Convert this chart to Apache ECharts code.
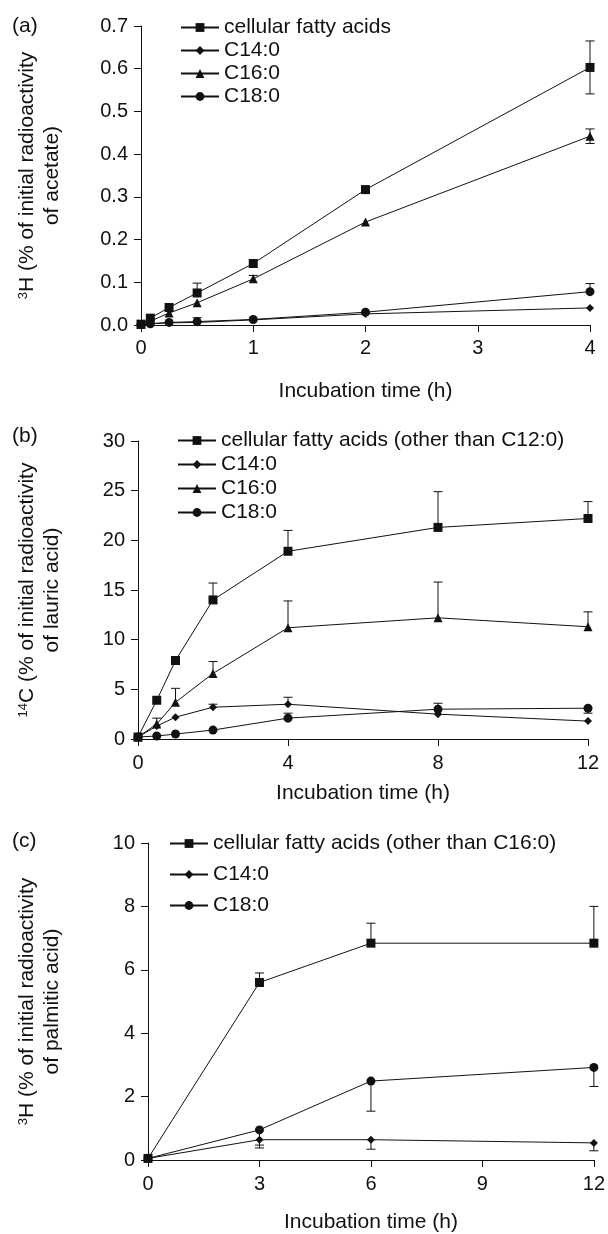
<!DOCTYPE html>
<html>
<head>
<meta charset="utf-8">
<script src="https://cdn.jsdelivr.net/npm/echarts@6/dist/echarts.min.js"></script>
<style>
  html, body { margin: 0; padding: 0; background: #fff; }
  #main { width: 608px; height: 1234px; }
</style>
</head>
<body>
<div id="main"></div>
<script>
// panel (a): 3H from acetate
const timeA = [0, 0.083, 0.25, 0.5, 1, 2, 4]
const fattyA = [0.002, 0.016, 0.041, 0.075, 0.144, 0.317, 0.603]
const c14A = [0.001, 0.003, 0.005, 0.006, 0.012, 0.026, 0.040]
const c16A = [0.001, 0.009, 0.028, 0.052, 0.108, 0.241, 0.442]
const c18A = [0.001, 0.003, 0.006, 0.008, 0.013, 0.030, 0.078]
const fattyAUp = [0, 0, 0, 0.023, 0, 0, 0.062]
const fattyALo = [0, 0, 0, 0, 0, 0, 0.062]
const c16AUp = [0, 0, 0, 0, 0.008, 0, 0.017]
const c16ALo = [0, 0, 0, 0, 0, 0, 0.017]
const c18AUp = [0, 0, 0, 0.009, 0, 0, 0.019]

// panel (b): 14C from lauric acid
const timeB = [0, 0.5, 1, 2, 4, 8, 12]
const fattyB = [0.2, 3.9, 7.9, 14.0, 18.9, 21.3, 22.2]
const c14B = [0.2, 1.3, 2.2, 3.2, 3.5, 2.5, 1.8]
const c16B = [0.2, 1.5, 3.7, 6.6, 11.2, 12.2, 11.3]
const c18B = [0.2, 0.3, 0.5, 0.9, 2.1, 3.0, 3.1]
const fattyBUp = [0, 0, 0, 1.7, 2.1, 3.6, 1.7]
const c14BUp = [0, 0, 0, 0.3, 0.7, 0, 0]
const c16BUp = [0, 0.6, 1.4, 1.2, 2.7, 3.6, 1.5]
const c18BUp = [0, 0, 0, 0, 0.5, 0.6, 0]
const c18BLo = [0, 0, 0, 0, 0, 0, 0.5]

// panel (c): 3H from palmitic acid
const timeC = [0, 3, 6, 12]
const fattyC = [0.05, 5.6, 6.84, 6.84]
const c14C = [0.05, 0.64, 0.64, 0.54]
const c18C = [0.05, 0.95, 2.49, 2.92]
const fattyCUp = [0, 0.3, 0.63, 1.16]
const c14CLo = [0, 0.26, 0.3, 0.25]
const c18CLo = [0, 0.48, 0.95, 0.6]

const namesA = ['cellular fatty acids', 'C14:0', 'C16:0', 'C18:0']
const namesB = ['cellular fatty acids (other than C12:0)', 'C14:0', 'C16:0', 'C18:0']
const namesC = ['cellular fatty acids (other than C16:0)', 'C14:0', 'C18:0']

const font = 'Liberation Sans, Arial, sans-serif'
const ink = '#111'
const textSize = 21
const tickSize = 20

function lineSeries(name, xs, ys, symbol, size, idx) {
    return {
        name: name,
        type: 'line',
        xAxisIndex: idx,
        yAxisIndex: idx,
        data: xs.map((x, i) => [x, ys[i]]),
        symbol: symbol,
        symbolSize: size,
        showAllSymbol: true,
        itemStyle: { color: ink },
        lineStyle: { color: ink, width: 1 },
        z: 3
    }
}

// error bars: [x, low, high, hasTopCap, hasBottomCap]
function errorSeries(xs, ys, up, lo, idx) {
    let data = []
    xs.forEach((x, i) => {
        let u = up ? up[i] : 0
        let l = lo ? lo[i] : 0
        if (u > 0 || l > 0) data.push([x, ys[i] - l, ys[i] + u, u > 0 ? 1 : 0, l > 0 ? 1 : 0])
    })
    return {
        type: 'custom',
        xAxisIndex: idx,
        yAxisIndex: idx,
        data: data,
        z: 2,
        silent: true,
        renderItem: function (params, api) {
            let x = api.value(0)
            let pLo = api.coord([x, api.value(1)])
            let pHi = api.coord([x, api.value(2)])
            let w = 4.5
            let st = { stroke: ink, lineWidth: 1 }
            let children = [{ type: 'line', shape: { x1: pLo[0], y1: pLo[1], x2: pHi[0], y2: pHi[1] }, style: st }]
            if (api.value(3)) children.push({ type: 'line', shape: { x1: pHi[0] - w, y1: pHi[1], x2: pHi[0] + w, y2: pHi[1] }, style: st })
            if (api.value(4)) children.push({ type: 'line', shape: { x1: pLo[0] - w, y1: pLo[1], x2: pLo[0] + w, y2: pLo[1] }, style: st })
            return { type: 'group', children: children }
        }
    }
}

function xAxis(idx, max, interval, gap, labelMargin) {
    return {
        gridIndex: idx, type: 'value', min: 0, max: max, interval: interval,
        name: 'Incubation time (h)', nameLocation: 'middle', nameGap: gap,
        nameTextStyle: { color: ink, fontSize: textSize, fontFamily: font },
        axisLine: { lineStyle: { color: ink, width: 1 } },
        axisTick: { lineStyle: { color: ink }, length: 7 },
        axisLabel: { color: ink, fontSize: tickSize, fontFamily: font, margin: labelMargin },
        splitLine: { show: false }
    }
}

function yAxis(idx, max, interval, name, gap, fmt) {
    return {
        gridIndex: idx, type: 'value', min: 0, max: max, interval: interval,
        name: name, nameLocation: 'middle', nameGap: gap, nameRotate: 90,
        nameTextStyle: {
            color: ink, fontSize: textSize, fontFamily: font, lineHeight: 25,
            rich: { sup: { fontSize: 13, fontFamily: font, color: ink, padding: [0, 0, 9, 0] } }
        },
        axisLine: { show: true, lineStyle: { color: ink, width: 1 } },
        axisTick: { show: true, lineStyle: { color: ink }, length: 7 },
        axisLabel: { color: ink, fontSize: tickSize, fontFamily: font, margin: 13, formatter: fmt },
        splitLine: { show: false }
    }
}

function legend(names, left, top, gap) {
    return {
        data: names, orient: 'vertical', left: left, top: top, padding: 0,
        itemWidth: 38, itemHeight: 11, itemGap: gap,
        selectedMode: false,
        textStyle: { color: ink, fontSize: textSize, fontFamily: font, lineHeight: 17 }
    }
}

function panelTitle(text, top) {
    return {
        text: text, left: 12, top: top, padding: 0,
        textStyle: { color: ink, fontSize: textSize, fontWeight: 'normal', fontFamily: font }
    }
}

var myChart = echarts.init(document.getElementById('main'))

var option = {
    backgroundColor: '#fff',
    animation: false,
    title: [panelTitle('(a)', 16), panelTitle('(b)', 426), panelTitle('(c)', 831)],
    legend: [legend(namesA, 180, 17, 2), legend(namesB, 177, 430, 3), legend(namesC, 169, 833, 10)],
    grid: [
        { left: 141, top: 26, width: 449, height: 299 },
        { left: 138, top: 441, width: 450, height: 298 },
        { left: 148, top: 843, width: 448, height: 320 }
    ],
    xAxis: [xAxis(0, 4, 1, 56, 13), xAxis(1, 12, 4, 44, 14), xAxis(2, 12, 3, 52, 14)],
    yAxis: [
        yAxis(0, 0.7, 0.1, '{sup|3}H (% of initial radioactivity\nof acetate)', 76, v => v.toFixed(1)),
        yAxis(1, 30, 5, '{sup|14}C (% of initial radioactivity\nof lauric acid)', 73),
        yAxis(2, 10, 2, '{sup|3}H (% of initial radioactivity\nof palmitic acid)', 83)
    ],
    series: [
        errorSeries(timeA, fattyA, fattyAUp, fattyALo, 0),
        errorSeries(timeA, c16A, c16AUp, c16ALo, 0),
        errorSeries(timeA, c18A, c18AUp, null, 0),
        lineSeries(namesA[0], timeA, fattyA, 'rect', 9, 0),
        lineSeries(namesA[1], timeA, c14A, 'diamond', 8, 0),
        lineSeries(namesA[2], timeA, c16A, 'triangle', 9, 0),
        lineSeries(namesA[3], timeA, c18A, 'circle', 9, 0),

        errorSeries(timeB, fattyB, fattyBUp, null, 1),
        errorSeries(timeB, c14B, c14BUp, null, 1),
        errorSeries(timeB, c16B, c16BUp, null, 1),
        errorSeries(timeB, c18B, c18BUp, c18BLo, 1),
        lineSeries(namesB[0], timeB, fattyB, 'rect', 9, 1),
        lineSeries(namesB[1], timeB, c14B, 'diamond', 8, 1),
        lineSeries(namesB[2], timeB, c16B, 'triangle', 9, 1),
        lineSeries(namesB[3], timeB, c18B, 'circle', 9, 1),

        errorSeries(timeC, fattyC, fattyCUp, null, 2),
        errorSeries(timeC, c14C, null, c14CLo, 2),
        errorSeries(timeC, c18C, null, c18CLo, 2),
        lineSeries(namesC[0], timeC, fattyC, 'rect', 9, 2),
        lineSeries(namesC[1], timeC, c14C, 'diamond', 8, 2),
        lineSeries(namesC[2], timeC, c18C, 'circle', 9, 2)
    ]
}

myChart.setOption(option)
</script>
</body>
</html>
